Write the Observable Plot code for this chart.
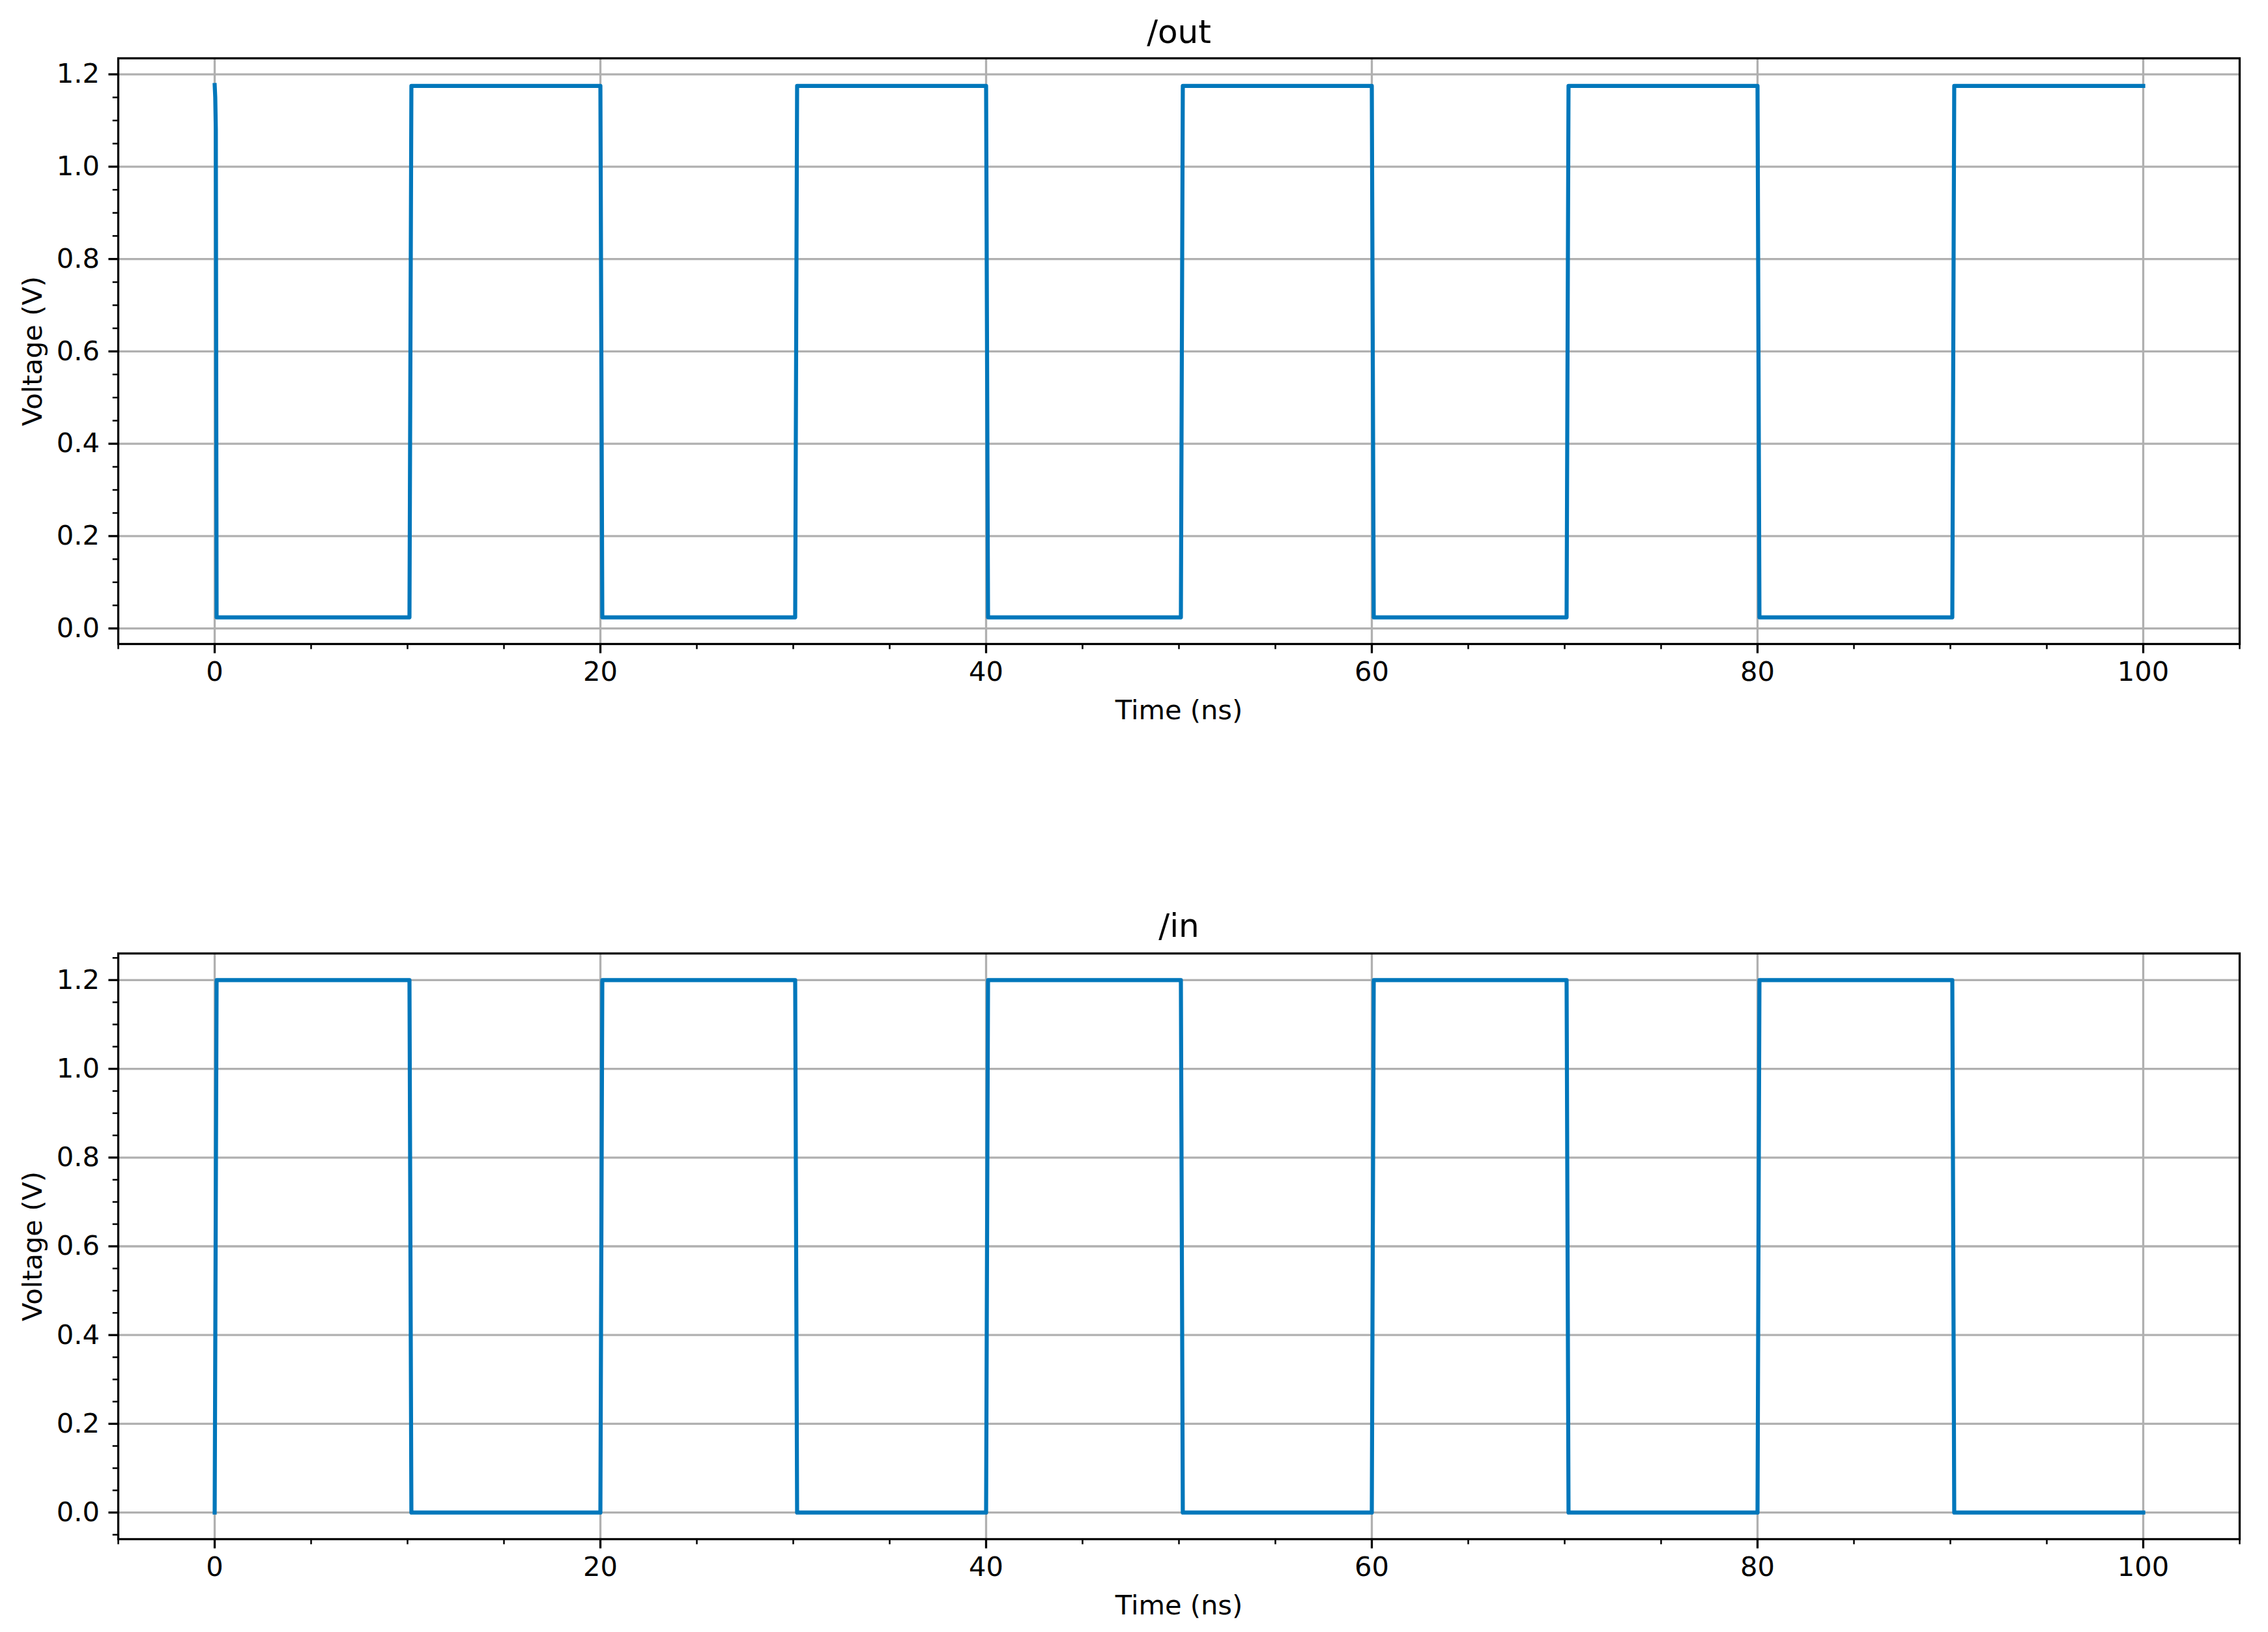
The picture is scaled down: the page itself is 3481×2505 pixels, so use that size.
<!DOCTYPE html>
<html>
<head>
<meta charset="utf-8">
<script src="https://cdn.jsdelivr.net/npm/d3@7"></script>
<script src="https://cdn.jsdelivr.net/npm/@observablehq/plot@0.6"></script>
<style>
  html, body { margin: 0; padding: 0; background: white; }
  #chart svg { display: block; }
</style>
</head>
<body>
<div id="chart"></div>
<script>
// ---- data ----
const outTime = [0, 0.03, 0.06, 0.1, 10.1, 10.2, 20.0, 20.1, 30.1, 30.2, 40.0, 40.1, 50.1, 50.2, 60.0, 60.1, 70.1, 70.2, 80.0, 80.1, 90.1, 90.2, 100];
const outVolt = [1.177, 1.15, 1.08, 0.024, 0.024, 1.175, 1.175, 0.024, 0.024, 1.175, 1.175, 0.024, 0.024, 1.175, 1.175, 0.024, 0.024, 1.175, 1.175, 0.024, 0.024, 1.175, 1.175];

const inTime = [0, 0.1, 10.1, 10.2, 20.0, 20.1, 30.1, 30.2, 40.0, 40.1, 50.1, 50.2, 60.0, 60.1, 70.1, 70.2, 80.0, 80.1, 90.1, 90.2, 100];
const inVolt = [0, 1.2, 1.2, 0, 0, 1.2, 1.2, 0, 0, 1.2, 1.2, 0, 0, 1.2, 1.2, 0, 0, 1.2, 1.2, 0, 0];

const xDomain = [-5, 105];
const outYDomain = [-0.0337, 1.2347];
const inYDomain = [-0.06, 1.26];

const xMajorTicks = [0, 20, 40, 60, 80, 100];
const xMinorTicks = [-5, 5, 10, 15, 25, 30, 35, 45, 50, 55, 65, 70, 75, 85, 90, 95, 105];
const yMajorTicks = [0, 0.2, 0.4, 0.6, 0.8, 1.0, 1.2];
const yMinorTicks = [-0.05, 0.05, 0.1, 0.15, 0.25, 0.3, 0.35, 0.45, 0.5, 0.55, 0.65, 0.7, 0.75, 0.85, 0.9, 0.95, 1.05, 1.1, 1.15, 1.25];

const xLabel = "Time (ns)";
const yLabel = "Voltage (V)";
const titles = ["/out", "/in"];

// ---- styling ----
const W = 3481;
const LINE = "#0077bb";
const GRID = "#b0b0b0";
const FONT = "DejaVu Sans";
const FS = 41.6;

function panel({title, time, volt, yDomain, height, marginTop, marginBottom, titleDy}) {
  const data = time.map((t, i) => ({t, v: volt[i]}));
  const yMin = yMinorTicks.filter(d => d >= yDomain[0] && d <= yDomain[1]);
  return Plot.plot({
    width: W,
    height,
    marginLeft: 181,
    marginRight: 44,
    marginTop,
    marginBottom,
    style: {fontFamily: FONT, fontSize: FS + "px", background: "white", color: "black", overflow: "visible"},
    x: {domain: xDomain},
    y: {domain: yDomain},
    marks: [
      Plot.gridX(xMajorTicks, {stroke: GRID, strokeOpacity: 1, strokeWidth: 3.3}),
      Plot.gridY(yMajorTicks, {stroke: GRID, strokeOpacity: 1, strokeWidth: 3.3}),
      Plot.line(data, {x: "t", y: "v", stroke: LINE, strokeWidth: 6.2, strokeLinejoin: "round", strokeLinecap: "square"}),
      Plot.frame({stroke: "black", strokeWidth: 3.3}),
      Plot.axisX(xMinorTicks, {tickSize: 8.3, strokeWidth: 2.5, tickFormat: () => "", label: null}),
      Plot.axisX(xMajorTicks, {tickSize: 14.6, tickPadding: 12, strokeWidth: 3.3, fontSize: FS, tickFormat: d => String(d), label: null}),
      Plot.axisY(yMin, {tickSize: 8.3, strokeWidth: 2.5, tickFormat: () => "", label: null}),
      Plot.axisY(yMajorTicks, {tickSize: 14.6, tickPadding: 14, strokeWidth: 3.3, fontSize: FS, tickFormat: d3.format(".1f"), label: null}),
      Plot.text([title], {text: d => d, frameAnchor: "top", dy: titleDy, textAnchor: "middle", lineAnchor: "middle", fontSize: 50}),
      Plot.text([xLabel], {text: d => d, frameAnchor: "bottom", dy: 102, textAnchor: "middle", lineAnchor: "middle", fontSize: FS}),
      Plot.text([yLabel], {text: d => d, frameAnchor: "left", dx: -131, rotate: -90, textAnchor: "middle", lineAnchor: "middle", fontSize: FS})
    ]
  });
}

const chart = document.getElementById("chart");
chart.append(panel({title: titles[0], time: outTime, volt: outVolt, yDomain: outYDomain, height: 1200, marginTop: 89, marginBottom: 212, titleDy: -40}));
chart.append(panel({title: titles[1], time: inTime, volt: inVolt, yDomain: inYDomain, height: 1305, marginTop: 263, marginBottom: 143, titleDy: -42}));
</script>
</body>
</html>
